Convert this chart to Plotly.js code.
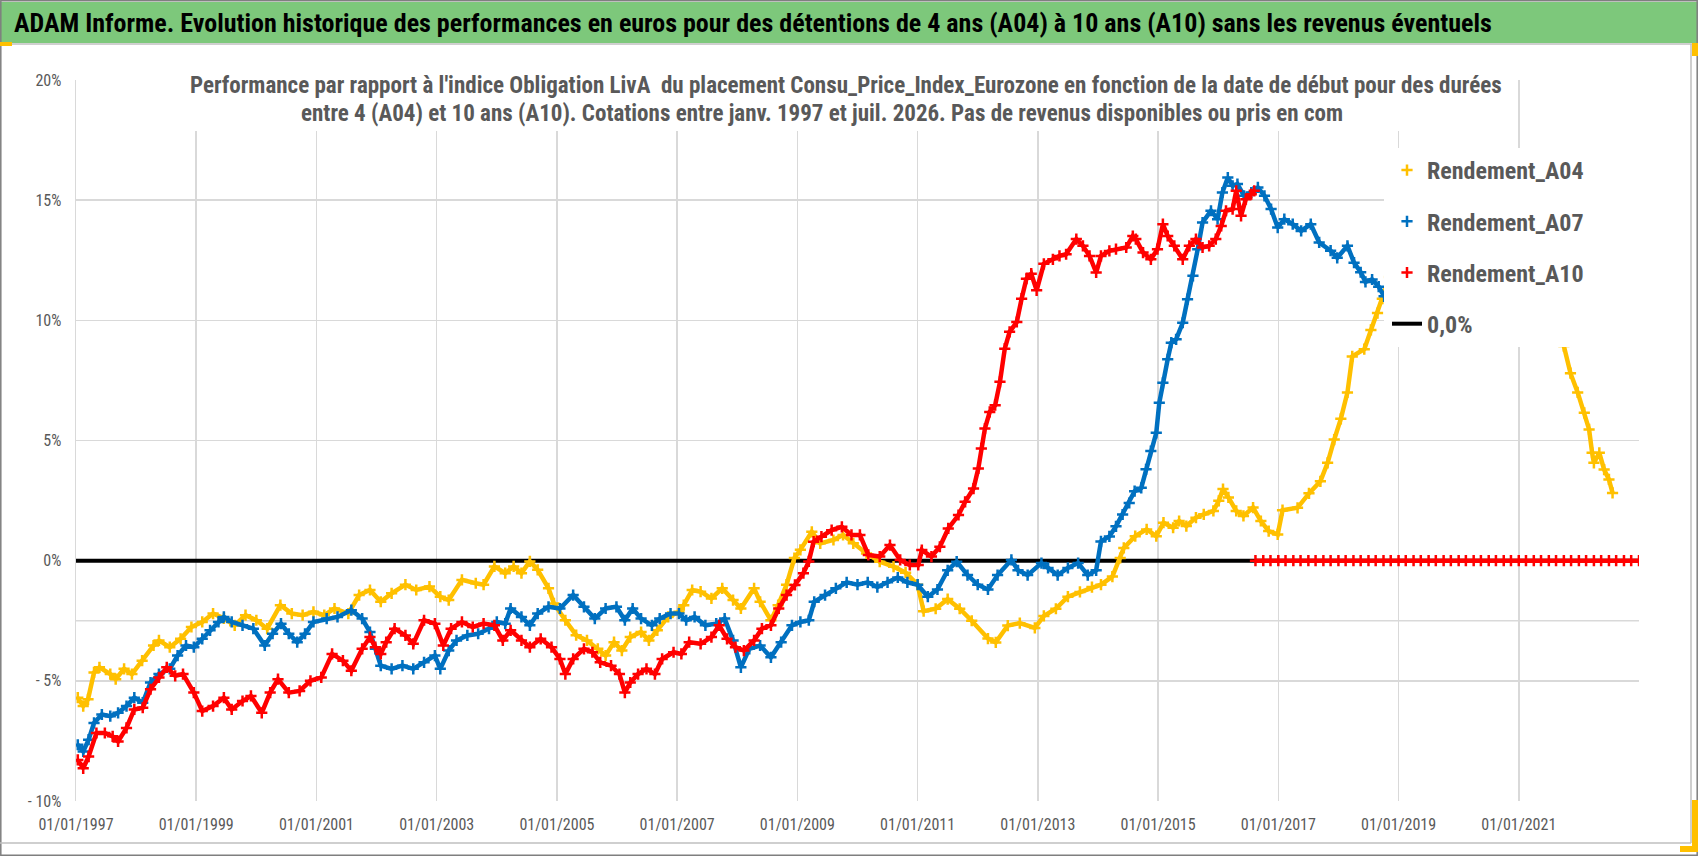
<!DOCTYPE html>
<html>
<head>
<meta charset="utf-8">
<script src="https://cdn.plot.ly/plotly-3.0.1.min.js"></script>
<style>
html, body { margin: 0; padding: 0; background: #fff; }
#plot { width: 1698px; height: 856px; }
</style>
</head>
<body>
<div id="plot"></div>
<script>
"use strict";

// ── Data (x = start date in decimal years, y = %) ──
const a04X = [1997.03,1997.12,1997.2,1997.3,1997.39,1997.57,1997.66,1997.8,1997.93,1998.1,1998.29,1998.38,1998.56,1998.74,1998.92,
  1999.1,1999.28,1999.46,1999.64,1999.82,2000.0,2000.18,2000.4,2000.59,2000.77,2000.95,2001.13,2001.3,2001.53,2001.71,2001.89,
  2002.07,2002.25,2002.48,2002.66,2002.88,2003.06,2003.2,2003.42,2003.65,2003.78,2003.96,2004.14,2004.28,2004.41,2004.55,2004.68,
  2004.86,2004.95,2005.14,2005.32,2005.5,2005.68,2005.81,2005.95,2006.08,2006.22,2006.4,2006.53,2006.67,2006.85,2007.03,2007.11,
  2007.25,2007.39,2007.57,2007.75,2007.93,2008.06,2008.28,2008.38,2008.56,2008.68,2008.82,2008.95,2009.05,2009.24,2009.38,2009.6,
  2009.76,2009.93,2010.15,2010.37,2010.6,2010.8,2011.0,2011.1,2011.3,2011.5,2011.7,2011.9,2012.17,2012.3,2012.5,2012.7,2012.95,
  2013.1,2013.3,2013.5,2013.7,2013.9,2014.05,2014.24,2014.37,2014.43,2014.62,2014.81,2014.97,2015.09,2015.25,2015.35,2015.47,
  2015.63,2015.76,2015.92,2016.01,2016.08,2016.17,2016.3,2016.42,2016.58,2016.71,2016.84,2016.99,2017.07,2017.32,2017.51,2017.7,
  2017.82,2017.93,2018.04,2018.15,2018.23,2018.43,2018.54,2018.65,2018.73,2018.85,2019.2,2019.7,2020.2,2020.7,2021.2,2021.5,
  2021.75,2021.86,2021.98,2022.09,2022.17,2022.22,2022.25,2022.34,2022.42,2022.5,2022.56];
const a04Y = [-5.7,-6.05,-5.77,-4.65,-4.44,-4.72,-4.93,-4.5,-4.72,-4.16,-3.53,-3.32,-3.6,-3.25,-2.76,
  -2.55,-2.2,-2.4,-2.69,-2.27,-2.48,-2.83,-1.85,-2.2,-2.27,-2.13,-2.27,-1.99,-2.2,-1.43,-1.22,
  -1.71,-1.36,-1.0,-1.22,-1.08,-1.5,-1.64,-0.8,-0.94,-1.0,-0.24,-0.52,-0.24,-0.52,-0.03,-0.38,
  -1.15,-1.78,-2.48,-3.1,-3.32,-3.67,-3.95,-3.39,-3.74,-3.18,-2.97,-3.32,-2.9,-2.34,-2.13,-1.85,
  -1.22,-1.29,-1.57,-1.15,-1.64,-1.99,-1.15,-1.71,-2.48,-1.85,-1.0,0.11,0.45,1.2,0.72,0.86,
  1.07,0.72,0.3,-0.04,-0.25,-0.5,-1.0,-2.1,-2.0,-1.6,-2.0,-2.5,-3.24,-3.4,-2.7,-2.6,-2.8,
  -2.3,-2.0,-1.5,-1.3,-1.1,-1.0,-0.66,0.11,0.53,1.02,1.3,1.02,1.58,1.37,1.65,1.44,
  1.79,1.93,2.07,2.49,2.98,2.63,2.07,1.86,2.21,1.65,1.23,1.09,2.1,2.2,2.8,3.3,
  4.07,5.04,5.9,7.0,8.5,8.8,9.6,10.3,10.9,11.8,12.6,13.4,13.8,12.9,11.4,10.2,
  8.93,7.8,7.0,6.15,5.46,4.49,4.07,4.49,3.79,3.38,2.82];

const a07X = [1997.03,1997.12,1997.21,1997.3,1997.43,1997.57,1997.7,1997.84,1997.97,1998.11,1998.24,1998.38,1998.56,1998.69,1998.83,
  1998.96,1999.1,1999.23,1999.37,1999.46,1999.59,1999.77,1999.95,2000.14,2000.27,2000.41,2000.54,2000.68,2000.81,2000.95,2001.17,
  2001.35,2001.58,2001.76,2001.89,2001.98,2002.07,2002.25,2002.43,2002.61,2002.79,2002.97,2003.06,2003.2,2003.33,2003.51,2003.69,
  2003.87,2004.0,2004.14,2004.23,2004.41,2004.55,2004.68,2004.86,2005.05,2005.27,2005.45,2005.63,2005.81,2005.99,2006.13,2006.26,
  2006.4,2006.58,2006.71,2006.89,2007.03,2007.15,2007.29,2007.47,2007.65,2007.79,2007.93,2008.06,2008.2,2008.38,2008.56,2008.73,
  2008.91,2009.05,2009.19,2009.28,2009.46,2009.64,2009.82,2010.0,2010.17,2010.33,2010.5,2010.67,2010.83,2011.0,2011.17,2011.33,
  2011.5,2011.65,2011.83,2012.0,2012.17,2012.33,2012.56,2012.67,2012.83,2013.06,2013.17,2013.33,2013.5,2013.67,2013.83,2013.97,
  2014.05,2014.19,2014.3,2014.41,2014.52,2014.61,2014.72,2014.8,2014.88,2014.97,2015.02,2015.08,2015.16,2015.22,2015.3,2015.41,
  2015.49,2015.58,2015.66,2015.74,2015.88,2015.99,2016.07,2016.16,2016.24,2016.32,2016.43,2016.55,2016.66,2016.77,2016.88,2016.99,
  2017.1,2017.24,2017.38,2017.54,2017.68,2017.87,2017.98,2018.15,2018.26,2018.37,2018.45,2018.56,2018.67,2018.76];
const a07Y = [-7.66,-7.94,-7.45,-6.75,-6.4,-6.47,-6.33,-6.05,-5.7,-5.91,-5.07,-4.72,-4.5,-3.95,-3.53,
  -3.6,-3.25,-2.9,-2.55,-2.34,-2.55,-2.69,-2.83,-3.53,-3.04,-2.62,-3.04,-3.39,-3.04,-2.55,-2.41,
  -2.34,-2.06,-2.41,-2.97,-3.67,-4.37,-4.5,-4.37,-4.5,-4.23,-3.95,-4.5,-3.74,-3.32,-3.11,-3.04,
  -2.83,-2.55,-2.62,-1.99,-2.34,-2.69,-2.2,-1.92,-1.99,-1.43,-1.92,-2.41,-1.99,-1.92,-2.48,-1.99,
  -2.41,-2.69,-2.41,-2.2,-2.2,-2.48,-2.34,-2.69,-2.62,-2.41,-3.32,-4.44,-3.67,-3.53,-4.02,-3.39,
  -2.69,-2.55,-2.48,-1.71,-1.43,-1.15,-0.9,-1.0,-0.9,-1.1,-0.9,-0.7,-0.9,-1.0,-1.5,-1.2,
  -0.4,-0.04,-0.6,-1.0,-1.2,-0.6,0.03,-0.4,-0.6,-0.1,-0.3,-0.6,-0.3,-0.1,-0.6,-0.4,
  0.8,1.01,1.43,1.92,2.4,2.89,3.03,3.8,4.56,5.32,6.57,7.4,8.38,9.07,9.21,9.9,
  10.88,11.85,12.96,14.07,14.56,14.21,15.32,15.94,15.6,15.67,15.18,15.32,15.53,15.18,14.63,13.86,
  14.21,14.0,13.72,14.0,13.24,12.9,12.6,13.1,12.4,12.0,11.6,11.7,11.4,11.0];

// A10: last valid start date around mid-2016, then the sheet reports 0
const a10X = [1997.03,1997.12,1997.21,1997.34,1997.48,1997.61,1997.7,1997.84,1997.97,1998.11,1998.24,1998.38,1998.51,1998.65,1998.78,
  1998.96,1999.1,1999.28,1999.46,1999.59,1999.77,1999.91,2000.09,2000.23,2000.36,2000.54,2000.72,2000.9,2001.08,2001.26,2001.44,
  2001.58,2001.76,2001.89,2001.98,2002.07,2002.16,2002.3,2002.48,2002.61,2002.79,2002.97,2003.11,2003.24,2003.42,2003.6,2003.78,
  2003.96,2004.1,2004.23,2004.41,2004.55,2004.73,2004.91,2005.05,2005.14,2005.27,2005.45,2005.59,2005.72,2005.9,2006.04,2006.13,
  2006.22,2006.35,2006.49,2006.63,2006.75,2006.94,2007.07,2007.2,2007.39,2007.57,2007.7,2007.83,2007.97,2008.11,2008.28,2008.41,
  2008.56,2008.69,2008.82,2008.96,2009.1,2009.19,2009.27,2009.4,2009.57,2009.74,2009.9,2010.04,2010.18,2010.37,2010.54,2010.71,
  2010.87,2011.01,2011.07,2011.23,2011.37,2011.51,2011.68,2011.79,2011.93,2012.01,2012.06,2012.12,2012.2,2012.29,2012.37,2012.45,
  2012.53,2012.65,2012.73,2012.81,2012.89,2012.98,2013.1,2013.25,2013.36,2013.47,2013.64,2013.75,2013.86,2013.97,2014.05,2014.19,
  2014.3,2014.47,2014.58,2014.63,2014.75,2014.88,2014.99,2015.08,2015.16,2015.27,2015.41,2015.52,2015.63,2015.74,2015.85,2015.96,
  2016.05,2016.13,2016.24,2016.3,2016.38,2016.46,2016.55,2016.6,2016.61,
  2016.62,2016.75,2016.87,2017.0,2017.12,2017.25,2017.37,2017.5,2017.62,2017.75,2017.87,2018.0,2018.12,2018.25,2018.37,2018.5,
  2018.62,2018.75,2018.87,2019.0,2019.12,2019.25,2019.37,2019.5,2019.62,2019.75,2019.87,2020.0,2020.12,2020.25,2020.37,2020.5,
  2020.62,2020.75,2020.87,2021.0,2021.12,2021.25,2021.37,2021.5,2021.62,2021.75,2021.87,2022.0,2022.12,2022.25,2022.37,2022.5,
  2022.62,2022.75,2022.87,2023.0];
const a10Y = [-8.29,-8.64,-8.15,-7.17,-7.17,-7.31,-7.52,-6.96,-6.19,-6.12,-5.35,-4.86,-4.44,-4.79,-4.72,
  -5.49,-6.26,-6.05,-5.7,-6.19,-5.84,-5.63,-6.33,-5.49,-4.93,-5.49,-5.42,-5.0,-4.86,-3.88,-4.16,
  -4.58,-3.67,-3.18,-3.6,-3.88,-3.39,-2.83,-3.11,-3.46,-2.48,-2.62,-3.53,-2.83,-2.55,-2.76,-2.62,
  -2.69,-3.32,-2.9,-3.32,-3.6,-3.25,-3.6,-4.09,-4.72,-4.09,-3.67,-3.81,-4.23,-4.37,-4.72,-5.49,
  -5.07,-4.72,-4.5,-4.72,-4.09,-3.81,-3.88,-3.39,-3.46,-3.18,-2.69,-3.25,-3.6,-3.74,-3.32,-2.83,
  -2.69,-1.99,-1.43,-1.01,-0.52,-0.03,0.79,1.0,1.27,1.41,1.07,1.07,0.24,0.17,0.65,0.03,
  -0.18,-0.18,0.44,0.17,0.58,1.34,1.9,2.45,3.0,3.84,4.67,5.5,6.19,6.47,7.44,8.82,
  9.52,9.93,10.9,11.73,11.94,11.25,12.35,12.54,12.68,12.75,13.38,13.1,12.68,11.99,12.68,12.89,
  12.96,13.03,13.51,13.38,12.82,12.54,12.96,14.0,13.51,13.1,12.54,13.1,13.38,13.03,13.1,13.38,
  13.93,14.56,14.63,15.39,14.35,15.04,15.25,15.39,null,
  0,0,0,0,0,0,0,0,0,0,0,0,0,0,0,0,
  0,0,0,0,0,0,0,0,0,0,0,0,0,0,0,0,
  0,0,0,0,0,0,0,0,0,0,0,0,0,0,0,0,
  0,0,0,0];

const zeroX = [1997, 2023];
const zeroY = [0, 0];

const seriesNames = ["Rendement_A04", "Rendement_A07", "Rendement_A10"];
const seriesColors = ["#FFC000", "#0070C0", "#FF0000"];

const xTickVals = [1997, 1999, 2001, 2003, 2005, 2007, 2009, 2011, 2013, 2015, 2017, 2019, 2021];
const xTickText = ["01/01/1997", "01/01/1999", "01/01/2001", "01/01/2003", "01/01/2005", "01/01/2007", "01/01/2009",
  "01/01/2011", "01/01/2013", "01/01/2015", "01/01/2017", "01/01/2019", "01/01/2021"];
const yTickVals = [-10, -5, 0, 5, 10, 15, 20];
const yTickText = ["- 10%", "- 5%", "0%", "5%", "10%", "15%", "20%"];

const TITLE = "ADAM Informe. Evolution historique des performances en euros pour des détentions de 4 ans (A04) à 10 ans (A10) sans les revenus éventuels";
const SUBTITLE_1 = "Performance par rapport à l'indice Obligation LivA&nbsp; du placement Consu_Price_Index_Eurozone en fonction de la date de début pour des durées";
const SUBTITLE_2 = "entre 4 (A04) et 10 ans (A10). Cotations entre janv. 1997 et juil. 2026. Pas de revenus disponibles ou pris en com";

// ── Page geometry (pixels) ──
const W = 1698, H = 856;
const M = { l: 76, r: 59, t: 80, b: 55 };
const FONT = "'Liberation Sans Narrow', 'Roboto Condensed', 'DejaVu Sans Condensed', sans-serif";
const GRID = "#D9D9D9";
const TXT = "#595959";

// pixel -> paper helpers for the decoration shapes
const pw = W - M.l - M.r, ph = H - M.t - M.b;
const px = x => (x - M.l) / pw;
const py = y => (H - M.b - y) / ph;

// Each series = a connecting band (no legend) + the "+" markers (legend)
const xs = [a04X, a07X, a10X], ys = [a04Y, a07Y, a10Y];
const traces = [{
    type: "scatter", mode: "lines", x: zeroX, y: zeroY,
    name: "0,0%", line: { color: "#000", width: 4 },
    legendrank: 4, legendgroup: "g4", hoverinfo: "skip",
}];
for (let i = 0; i < 3; i++) {
    traces.push({
        type: "scatter", mode: "lines", x: xs[i], y: ys[i],
        line: { color: seriesColors[i], width: 4.5 }, connectgaps: false,
        showlegend: false, hoverinfo: "skip",
    });
    traces.push({
        type: "scatter", mode: "markers", x: xs[i], y: ys[i],
        name: seriesNames[i], legendrank: i + 1, legendgroup: "g" + i,
        marker: { symbol: "cross-thin", size: 8, color: seriesColors[i],
                  line: { color: seriesColors[i], width: 2.5 } },
    });
}

const shapes = [
    // green title band + rule under it
    { type: "rect", xref: "paper", yref: "paper", x0: px(0), x1: px(W), y0: py(43), y1: py(2),
      fillcolor: "#7DC87B", line: { width: 0 }, layer: "below" },
    { type: "line", xref: "paper", yref: "paper", x0: px(0), x1: px(W), y0: py(44), y1: py(44),
      line: { color: "#BFBFBF", width: 1.5 } },
    // outer frame and inner chart-area frame
    { type: "rect", xref: "paper", yref: "paper", x0: px(0.8), x1: px(W - 0.8), y0: py(H - 0.8), y1: py(0.8),
      line: { color: "#7F7F7F", width: 1.5 } },
    { type: "line", xref: "paper", yref: "paper", x0: px(0), x1: px(1691), y0: py(843), y1: py(843),
      line: { color: "#BFBFBF", width: 1.5 } },
    { type: "line", xref: "paper", yref: "paper", x0: px(1691), x1: px(1691), y0: py(44), y1: py(843),
      line: { color: "#BFBFBF", width: 1.5 } },
    // extra rule at -2.5 %
    { type: "line", xref: "paper", yref: "y", x0: 0, x1: 1, y0: -2.5, y1: -2.5,
      line: { color: GRID, width: 1.5 }, layer: "below" },
    // white boxes behind the in-plot title and the legend
    { type: "rect", xref: "paper", yref: "paper", x0: px(190), x1: px(1500), y0: py(131), y1: py(72),
      fillcolor: "#fff", line: { width: 0 }, layer: "above" },
    { type: "rect", xref: "paper", yref: "paper", x0: px(1384), x1: px(1652), y0: py(347), y1: py(148),
      fillcolor: "#fff", line: { width: 0 }, layer: "above" },
    // selection handles
    { type: "rect", xref: "paper", yref: "paper", x0: px(0), x1: px(12), y0: py(46), y1: py(42),
      fillcolor: "#FFC000", line: { width: 0 } },
    { type: "rect", xref: "paper", yref: "paper", x0: px(1692), x1: px(W), y0: py(56), y1: py(43),
      fillcolor: "#FFC000", line: { width: 0 } },
    { type: "rect", xref: "paper", yref: "paper", x0: px(1692), x1: px(W), y0: py(852), y1: py(800),
      fillcolor: "#FFC000", line: { width: 0 } },
    { type: "rect", xref: "paper", yref: "paper", x0: px(1680), x1: px(W), y0: py(852), y1: py(846),
      fillcolor: "#FFC000", line: { width: 0 } },
];

const subFont = { family: FONT, size: 23, color: TXT, weight: "bold" };

const layout = {
    width: W, height: H,
    margin: M,
    paper_bgcolor: "#fff", plot_bgcolor: "#fff",
    font: { family: FONT, color: TXT },
    title: {
        text: TITLE, xref: "container", yref: "container",
        x: 14 / W, xanchor: "left", y: 1 - 23 / H, yanchor: "middle",
        font: { family: FONT, size: 26, color: "#000", weight: "bold" },
    },
    xaxis: {
        range: [1997, 2023], tickvals: xTickVals, ticktext: xTickText,
        showgrid: true, gridcolor: GRID, gridwidth: 1.5, zeroline: false, showline: false,
        ticks: "", ticklabelstandoff: 12,
        tickfont: { family: FONT, size: 16, color: TXT },
    },
    yaxis: {
        range: [-10, 20], tickvals: yTickVals, ticktext: yTickText,
        showgrid: true, gridcolor: GRID, gridwidth: 1.5, zeroline: false,
        showline: true, linecolor: GRID, linewidth: 1.5,
        ticks: "", ticklabelstandoff: 10,
        tickfont: { family: FONT, size: 16, color: TXT },
    },
    shapes: shapes,
    annotations: [
        { text: SUBTITLE_1, xref: "paper", yref: "paper",
          x: px(846), y: py(85), xanchor: "center", yanchor: "middle",
          showarrow: false, font: subFont },
        { text: SUBTITLE_2, xref: "paper", yref: "paper",
          x: px(822), y: py(114), xanchor: "center", yanchor: "middle",
          showarrow: false, font: subFont },
    ],
    showlegend: true,
    legend: {
        x: px(1387), xanchor: "left", y: py(148), yanchor: "top",
        bgcolor: "rgba(0,0,0,0)", tracegroupgap: 17,
        font: { family: FONT, size: 24, color: TXT, weight: "bold" },
    },
};

Plotly.newPlot("plot", traces, layout, { displayModeBar: false, staticPlot: true });
</script>
</body>
</html>
